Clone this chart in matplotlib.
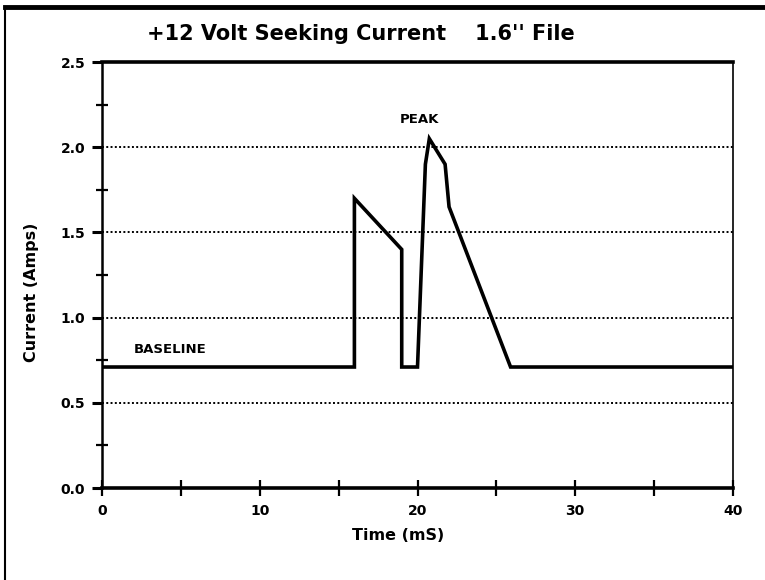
import matplotlib
matplotlib.use("Agg")
import matplotlib.pyplot as plt
from matplotlib.lines import Line2D
import numpy as np

# Data (Time in mS, Current in Amps)
time_ms = [0, 16.0, 16.0, 19.0, 19.0, 20.0, 20.5, 20.75, 21.75, 22.0, 25.9, 40]
current_a = [0.71, 0.71, 1.70, 1.40, 0.71, 0.71, 1.90, 2.05, 1.90, 1.65, 0.71, 0.71]

title = "+12 Volt Seeking Current    1.6'' File"
x_label = "Time (mS)"
y_label = "Current (Amps)"
x_major = [0, 10, 20, 30, 40]
x_minor = [5, 15, 25, 35]
y_major = [0.0, 0.5, 1.0, 1.5, 2.0, 2.5]
y_minor = [0.25, 0.75, 1.25, 1.75, 2.25]
grid_levels = [0.5, 1.0, 1.5, 2.0]

W, H = 765, 580
fig = plt.figure(figsize=(W / 100, H / 100), dpi=100)
ax = fig.add_axes([102 / W, 1 - 488 / H, (733 - 102) / W, (488 - 62) / H])

ax.set_xlim(0, 40)
ax.set_ylim(0, 2.5)

for g in grid_levels:
    ax.axhline(g, color="black", lw=1.4, ls=(0, (1, 1.2)), zorder=1)

ax.plot(time_ms, current_a, color="black", lw=2.6, solid_joinstyle="miter", zorder=3)

# spines
ax.spines["top"].set_linewidth(2.6)
ax.spines["bottom"].set_linewidth(2.6)
ax.spines["left"].set_linewidth(1.8)
ax.spines["right"].set_linewidth(1.2)

bold = dict(family="DejaVu Sans", weight="bold")

ax.set_xticks(x_major)
ax.set_xticks(x_minor, minor=True)
ax.set_xticklabels([str(v) for v in x_major], fontsize=10, **bold)
ax.tick_params(axis="x", which="both", direction="inout", length=11, width=1.6, pad=6)

ax.set_yticks(y_major)
ax.set_yticks(y_minor, minor=True)
ax.set_yticklabels([f"{v:.1f}" for v in y_major], fontsize=10, **bold)
ax.tick_params(axis="y", which="major", direction="out", length=7, width=2.2, pad=5)
ax.tick_params(axis="y", which="minor", direction="inout", length=8, width=1.6)

ax.text(20.15, 2.165, "PEAK", ha="center", va="center", fontsize=9.5, **bold)
ax.text(2.0, 0.81, "BASELINE", ha="left", va="center", fontsize=9.5, **bold)

fig.text(361 / W, 1 - 34 / H, title, ha="center", va="center", fontsize=15,
         family="DejaVu Sans", weight="bold")
fig.text(398 / W, 1 - 536 / H, x_label, ha="center", va="center", fontsize=11.5, **bold)
fig.text(32 / W, 1 - 292 / H, y_label, ha="center", va="center", rotation=90,
         fontsize=11.5, **bold)

# page frame (top and left)
fig.add_artist(Line2D([5 / W, 1.0], [1 - 7 / H, 1 - 7 / H], color="black", lw=3.5,
                      transform=fig.transFigure))
fig.add_artist(Line2D([5 / W, 5 / W], [0, 1 - 7 / H], color="black", lw=1.5,
                      transform=fig.transFigure))

fig.savefig("out.png", dpi=100)
